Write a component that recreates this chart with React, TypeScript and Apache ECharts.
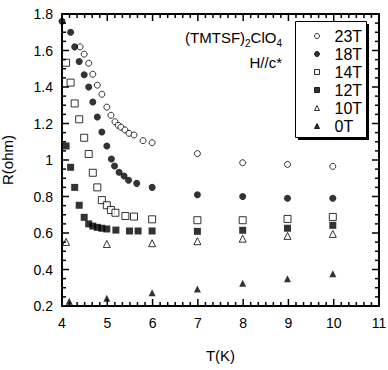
import React, { useEffect, useRef } from "react";
import * as echarts from "echarts";

const FONT = "Liberation Sans, Arial, Helvetica, sans-serif";

const SERIES_NAMES = ["23T", "18T", "14T", "12T", "10T", "0T"];

const T23 = [4.40, 4.49, 4.59, 4.68, 4.78, 4.88, 4.99, 5.08, 5.17, 5.24, 5.30, 5.39, 5.48, 5.59, 5.79, 5.99, 6.99, 7.99, 8.98, 9.98];
const R23 = [1.62, 1.58, 1.53, 1.47, 1.41, 1.36, 1.29, 1.245, 1.21, 1.19, 1.18, 1.165, 1.146, 1.137, 1.106, 1.095, 1.035, 0.985, 0.976, 0.965];

const T18 = [4.0, 4.19, 4.28, 4.38, 4.49, 4.59, 4.68, 4.78, 4.88, 4.99, 5.09, 5.16, 5.26, 5.37, 5.47, 5.65, 5.99, 6.99, 7.99, 8.98, 9.98];
const R18 = [1.76, 1.70, 1.62, 1.54, 1.467, 1.40, 1.318, 1.236, 1.153, 1.077, 1.005, 0.967, 0.933, 0.912, 0.889, 0.872, 0.85, 0.81, 0.80, 0.79, 0.79];

const T14 = [4.09, 4.19, 4.28, 4.38, 4.49, 4.59, 4.68, 4.78, 4.88, 4.99, 5.08, 5.18, 5.40, 5.59, 5.99, 6.99, 7.99, 8.98, 9.98];
const R14 = [1.533, 1.424, 1.31, 1.223, 1.122, 1.033, 0.93, 0.85, 0.78, 0.752, 0.726, 0.711, 0.693, 0.69, 0.675, 0.67, 0.67, 0.677, 0.688];

const T12 = [4.09, 4.19, 4.28, 4.38, 4.49, 4.59, 4.68, 4.78, 4.88, 4.99, 5.19, 5.49, 5.68, 5.99, 6.99, 7.99, 8.98, 9.98];
const R12 = [1.077, 0.96, 0.85, 0.752, 0.686, 0.65, 0.638, 0.631, 0.626, 0.622, 0.616, 0.611, 0.611, 0.611, 0.609, 0.615, 0.626, 0.642];

const T10 = [4.09, 4.99, 5.99, 6.99, 7.99, 8.98, 9.98];
const R10 = [0.551, 0.54, 0.544, 0.555, 0.569, 0.584, 0.595];

const T0 = [4.16, 4.99, 5.99, 6.99, 7.99, 8.98, 9.98];
const R0 = [0.226, 0.242, 0.273, 0.293, 0.324, 0.35, 0.377];

const X_MIN = 4, X_MAX = 11, X_STEP = 1;
const Y_MIN = 0.2, Y_MAX = 1.8, Y_STEP = 0.2;
const X_TICKS = [4, 5, 6, 7, 8, 9, 10, 11];
const Y_TICKS = [0.2, 0.4, 0.6, 0.8, 1.0, 1.2, 1.4, 1.6, 1.8];
const X_MINOR_SPLIT = 6;
const Y_MINOR_SPLIT = 4;

const pairs = (t: number[], r: number[]) => t.map((v, i) => [v, r[i]]);

function makeAxis(extra: any) {
  return {
    type: "value",
    axisLine: { show: true, onZero: false, lineStyle: { color: "#000", width: 2 } },
    axisTick: { show: false },
    minorTick: { show: false },
    splitLine: { show: false },
    ...extra,
  };
}

function renderTicks(params: any, api: any) {
  if (params.dataIndex !== 0) return null;
  const children: any[] = [];
  const line = (x1: number, y1: number, x2: number, y2: number) =>
    children.push({ type: "line", shape: { x1, y1, x2, y2 }, style: { stroke: "#000", lineWidth: 1.5, fill: null } });
  const MAJ = 7, MIN = 4;
  const xTick = (v: number, len: number) => {
    const b = api.coord([v, Y_MIN]);
    const t = api.coord([v, Y_MAX]);
    line(b[0], b[1], b[0], b[1] - len);
    line(t[0], t[1], t[0], t[1] + len);
  };
  const yTick = (v: number, len: number) => {
    const l = api.coord([X_MIN, v]);
    const r = api.coord([X_MAX, v]);
    line(l[0], l[1], l[0] + len, l[1]);
    line(r[0], r[1], r[0] - len, r[1]);
  };
  X_TICKS.forEach((v, i) => {
    xTick(v, MAJ);
    if (i < X_TICKS.length - 1) {
      const step = (X_TICKS[i + 1] - v) / X_MINOR_SPLIT;
      for (let k = 1; k < X_MINOR_SPLIT; k++) xTick(v + k * step, MIN);
    }
  });
  Y_TICKS.forEach((v, i) => {
    yTick(v, MAJ);
    if (i < Y_TICKS.length - 1) {
      const step = (Y_TICKS[i + 1] - v) / Y_MINOR_SPLIT;
      for (let k = 1; k < Y_MINOR_SPLIT; k++) yTick(v + k * step, MIN);
    }
  });
  return { type: "group", children };
}

export default function App() {
  const ref = useRef<HTMLDivElement>(null);
  useEffect(() => {
    if (!ref.current) return;
    const chart = echarts.init(ref.current, null, { renderer: "svg" });
    const open = { color: "#fff", borderColor: "#000", borderWidth: 1 };
    const filled = { color: "#000", borderColor: "#000", borderWidth: 0 };
    const mk = (name: string, t: number[], r: number[], symbol: string, size: number, style: any) => ({
      name,
      type: "scatter",
      data: pairs(t, r),
      symbol,
      symbolSize: size,
      itemStyle: style,
      z: 3,
    });
    chart.setOption({
      animation: false,
      backgroundColor: "#fff",
      textStyle: { fontFamily: FONT },
      grid: { left: 62, right: 9, top: 14, bottom: 64, containLabel: false, outerBoundsMode: "none" },
      xAxis: [
        makeAxis({
          min: X_MIN, max: X_MAX, interval: X_STEP,
          position: "bottom",
          name: "T(K)",
          nameLocation: "middle",
          nameGap: 42,
          nameTextStyle: { fontSize: 15, color: "#000", fontFamily: FONT },
          axisLabel: { show: true, fontSize: 14, color: "#000", margin: 10, fontFamily: FONT },
        }),
        makeAxis({
          min: X_MIN, max: X_MAX, interval: X_STEP,
          position: "top",
          axisLabel: { show: false },
        }),
      ],
      yAxis: [
        makeAxis({
          min: Y_MIN, max: Y_MAX, interval: Y_STEP,
          position: "left",
          name: "R(ohm)",
          nameLocation: "middle",
          nameGap: 47,
          nameTextStyle: { fontSize: 15, color: "#000", fontFamily: FONT },
          axisLabel: { show: true, fontSize: 14, color: "#000", margin: 9, fontFamily: FONT },
        }),
        makeAxis({
          min: Y_MIN, max: Y_MAX, interval: Y_STEP,
          position: "right",
          axisLabel: { show: false },
        }),
      ],
      legend: {
        data: SERIES_NAMES,
        orient: "vertical",
        left: 314,
        top: 27,
        padding: 0,
        itemWidth: 5,
        itemHeight: 5,
        itemGap: 0,
        selectedMode: false,
        z: 20,
        itemStyle: { borderWidth: 1 },
        textStyle: { fontSize: 16, lineHeight: 18, color: "#000", fontFamily: FONT, padding: [0, 0, 0, 10] },
      },
      graphic: [
        { type: "rect", z: 15, shape: { x: 298, y: 24, width: 71, height: 116 }, style: { fill: "#000" } },
        { type: "rect", z: 16, shape: { x: 295.5, y: 21.5, width: 71, height: 116 }, style: { fill: "#fff", stroke: "#000", lineWidth: 1 } },
        {
          type: "text",
          z: 16,
          x: 282,
          y: 37,
          style: {
            text: "{m|(TMTSF)}{s|2}{m|ClO}{s|4}",
            align: "right",
            verticalAlign: "middle",
            fill: "#000",
            fontFamily: FONT,
            fontSize: 15,
            rich: {
              m: { fontSize: 15, lineHeight: 22, fontFamily: FONT, fill: "#000" },
              s: { fontSize: 10, lineHeight: 12, verticalAlign: "bottom", fontFamily: FONT, fill: "#000" },
            },
          },
        },
        {
          type: "text",
          z: 16,
          x: 282,
          y: 62,
          style: { text: "H//c*", align: "right", verticalAlign: "middle", fill: "#000", fontFamily: FONT, fontSize: 15 },
        },
      ],
      series: [
        {
          type: "custom",
          name: "ticks",
          xAxisIndex: 0,
          yAxisIndex: 0,
          silent: true,
          clip: false,
          z: 10,
          data: [[X_MIN, Y_MIN]],
          renderItem: renderTicks,
        },
        mk("23T", T23, R23, "circle", 6, open),
        mk("18T", T18, R18, "circle", 7, filled),
        mk("14T", T14, R14, "rect", 7, open),
        mk("12T", T12, R12, "rect", 7, filled),
        mk("10T", T10, R10, "triangle", 7, open),
        mk("0T", T0, R0, "triangle", 7, filled),
      ],
    });
    return () => chart.dispose();
  }, []);
  return <div ref={ref} style={{ width: 388, height: 370, position: "absolute", left: 0, top: 0 }} />;
}
